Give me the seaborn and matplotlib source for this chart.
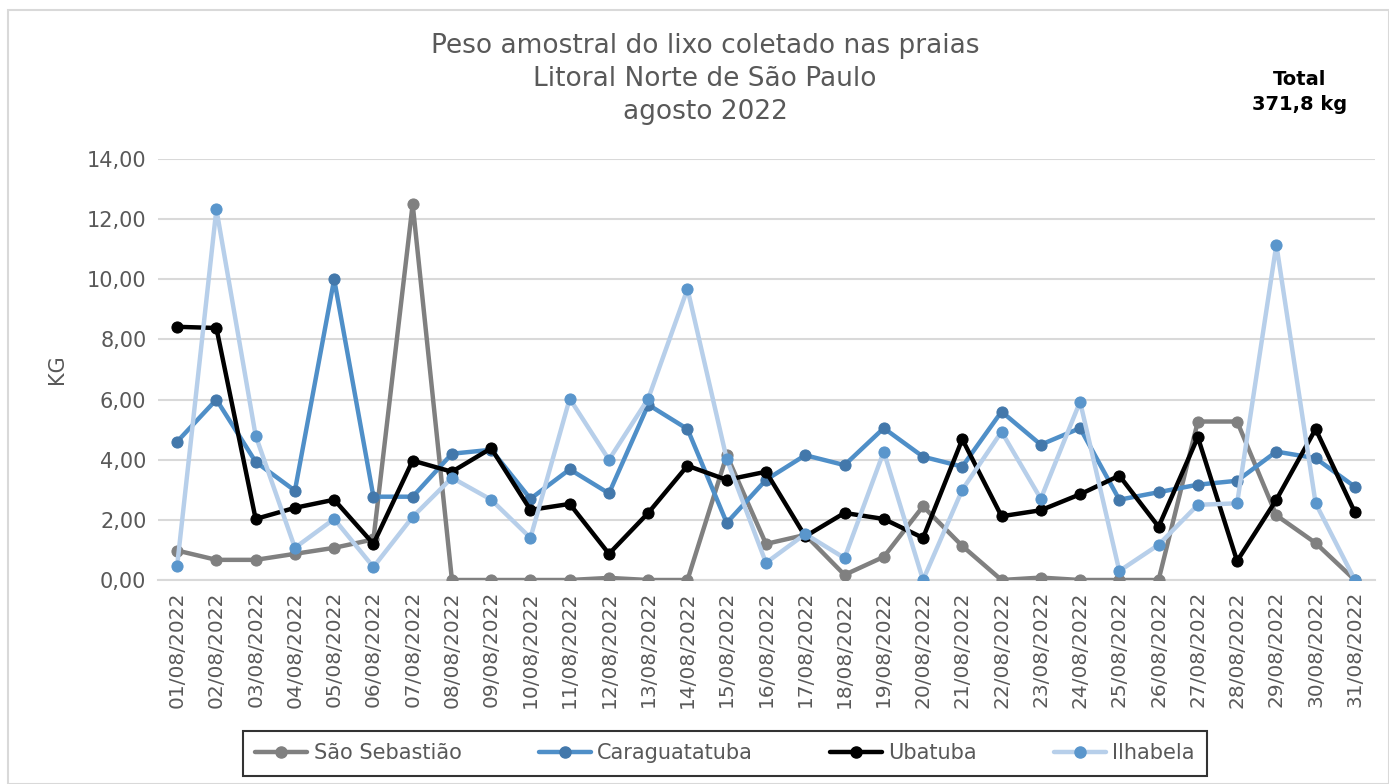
import matplotlib
matplotlib.use("Agg")
import matplotlib.pyplot as plt
import seaborn as sns
import pandas as pd
from matplotlib.lines import Line2D
from matplotlib.patches import Rectangle

dates = [f"{d:02d}/08/2022" for d in range(1, 32)]

sao_sebastiao = [0.98, 0.67, 0.67, 0.87, 1.07, 1.35, 12.50, 0.00, 0.00, 0.00,
                 0.00, 0.07, 0.00, 0.00, 4.15, 1.20, 1.50, 0.17, 0.77, 2.45,
                 1.13, 0.00, 0.08, 0.00, 0.00, 0.00, 5.27, 5.27, 2.15, 1.23, 0.00]
caraguatatuba = [4.60, 6.00, 3.93, 2.97, 10.00, 2.77, 2.77, 4.20, 4.33, 2.70,
                 3.68, 2.88, 5.83, 5.02, 1.90, 3.33, 4.15, 3.82, 5.05, 4.10,
                 3.77, 5.60, 4.50, 5.05, 2.67, 2.92, 3.17, 3.30, 4.27, 4.05, 3.10]
ubatuba = [8.42, 8.38, 2.03, 2.40, 2.67, 1.20, 3.97, 3.60, 4.38, 2.33,
           2.53, 0.87, 2.23, 3.80, 3.33, 3.60, 1.45, 2.23, 2.03, 1.40,
           4.68, 2.12, 2.32, 2.85, 3.47, 1.77, 4.75, 0.63, 2.67, 5.02, 2.25]
ilhabela = [0.47, 12.33, 4.80, 1.07, 2.03, 0.43, 2.10, 3.40, 2.67, 1.40,
            6.03, 4.00, 6.03, 9.68, 4.02, 0.57, 1.53, 0.73, 4.27, 0.00,
            3.00, 4.93, 2.70, 5.93, 0.30, 1.17, 2.50, 2.55, 11.15, 2.55, 0.00]

series_names = ["São Sebastião", "Caraguatatuba", "Ubatuba", "Ilhabela"]
series_values = [sao_sebastiao, caraguatatuba, ubatuba, ilhabela]
yticks = [0, 2, 4, 6, 8, 10, 12, 14]
ytick_labels = ["0,00", "2,00", "4,00", "6,00", "8,00", "10,00", "12,00", "14,00"]

line_colors = ["#808080", "#4f8fc8", "#000000", "#b7cfea"]
marker_colors = ["#808080", "#4378ab", "#000000", "#5a96cc"]

sns.set_theme(style="white")
plt.rcParams["font.family"] = ["DejaVu Sans"]

fig = plt.figure(figsize=(13.89, 7.84), dpi=100)
ax = fig.add_axes([157.5 / 1389, 1 - 580 / 784, 1217 / 1389, 421 / 784])

x = list(range(len(dates)))
handles = []
for name, vals, lc, mc in zip(series_names, series_values, line_colors, marker_colors):
    df = pd.DataFrame({"x": x, "y": vals})
    sns.lineplot(data=df, x="x", y="y", ax=ax, color=lc, linewidth=3.2,
                 marker="o", markersize=8, markerfacecolor=mc,
                 markeredgecolor=mc, zorder=3)
    handles.append(Line2D([0], [0], color=lc, linewidth=3.2, marker="o",
                          markersize=8, markerfacecolor=mc, markeredgecolor=mc))

ax.set_xlim(-0.5, len(dates) - 0.5)
ax.set_ylim(0, 14)
ax.set_yticks(yticks)
ax.set_yticklabels(ytick_labels, fontsize=15, color="#595959")
ax.set_xticks(x)
ax.set_xticklabels(dates, rotation=90, fontsize=14.5, color="#595959")
ax.tick_params(axis="both", length=0, pad=8)
ax.grid(axis="y", color="#d9d9d9", linewidth=1.5, zorder=0)
ax.grid(axis="x", visible=False)
for s in ["top", "right", "left"]:
    ax.spines[s].set_visible(False)
ax.spines["bottom"].set_color("#d9d9d9")
ax.spines["bottom"].set_linewidth(1.5)
ax.set_xlabel("")
ax.set_ylabel("KG", fontsize=15, color="#595959", labelpad=14)

fig.text(705 / 1389, 1 - 79 / 784,
         "Peso amostral do lixo coletado nas praias\nLitoral Norte de São Paulo\nagosto 2022",
         ha="center", va="center", fontsize=19, color="#595959", linespacing=1.35)
fig.text(1300 / 1389, 1 - 92 / 784, "Total\n371,8 kg", ha="center", va="center",
         fontsize=14, fontweight="bold", color="#000000", linespacing=1.45)

leg = fig.legend(handles, series_names, loc="center",
                 bbox_to_anchor=(725 / 1389, 1 - 753 / 784), ncol=4,
                 fontsize=15, frameon=True, fancybox=False, handlelength=2.5,
                 handletextpad=0.3, columnspacing=3.7, borderpad=0.6)
for t in leg.get_texts():
    t.set_color("#595959")
leg.get_frame().set_edgecolor("#000000")
leg.get_frame().set_linewidth(1.5)

fig.patches.append(Rectangle((8 / 1389, 0), 1 - 8 / 1389, 1 - 10 / 784,
                             transform=fig.transFigure, fill=False,
                             edgecolor="#d9d9d9", linewidth=1.5))

fig.savefig("out.png", dpi=100)
